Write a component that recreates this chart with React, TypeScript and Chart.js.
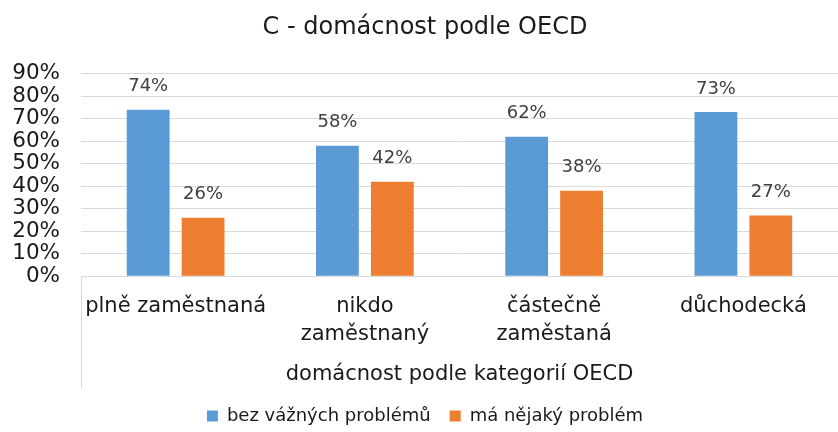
import React, { useEffect, useRef } from "react";
import { Chart, registerables } from "chart.js";

Chart.register(...registerables);

const chartTitle = "C - domácnost podle OECD";
const axisTitle = "domácnost podle kategorií OECD";
const categories: (string | string[])[] = [
  "plně zaměstnaná",
  ["nikdo", "zaměstnaný"],
  ["částečně", "zaměstaná"],
  "důchodecká",
];
const seriesNames = ["bez vážných problémů", "má nějaký problém"];
const noProblem = [74, 58, 62, 73];
const someProblem = [26, 42, 38, 27];
const yTicksMax = 90;
const yTickStep = 10;

const FONT = "'DejaVu Sans', Verdana, sans-serif";

const dataLabels = {
  id: "dataLabels",
  afterDatasetsDraw(chart: any) {
    const ctx = chart.ctx;
    ctx.save();
    ctx.font = `18px ${FONT}`;
    ctx.fillStyle = "#404040";
    ctx.textAlign = "center";
    ctx.textBaseline = "bottom";
    chart.data.datasets.forEach((ds: any, di: number) => {
      const meta = chart.getDatasetMeta(di);
      meta.data.forEach((bar: any, i: number) => {
        ctx.fillText(Math.round(ds.data[i]) + "%", bar.x, bar.y - 14);
      });
    });
    ctx.restore();
  },
};

const leftFrame = {
  id: "leftFrame",
  afterDraw(chart: any) {
    const ctx = chart.ctx;
    const xs = chart.scales.x;
    const x = Math.round(chart.chartArea.left) + 0.5;
    ctx.save();
    ctx.strokeStyle = "#d9d9d9";
    ctx.lineWidth = 1;
    ctx.beginPath();
    ctx.moveTo(x, chart.chartArea.bottom);
    ctx.lineTo(x, xs.bottom);
    ctx.stroke();
    ctx.restore();
  },
};

export default function App() {
  const ref = useRef<HTMLCanvasElement>(null);
  useEffect(() => {
    const chart = new Chart(ref.current!, {
      type: "bar",
      data: {
        labels: categories,
        datasets: [
          {
            label: seriesNames[0],
            data: noProblem,
            backgroundColor: "#5b9bd5",
            barPercentage: 0.78,
            categoryPercentage: 0.58,
          },
          {
            label: seriesNames[1],
            data: someProblem,
            backgroundColor: "#ed7d31",
            barPercentage: 0.78,
            categoryPercentage: 0.58,
          },
        ],
      },
      options: {
        animation: false,
        responsive: false,
        layout: { padding: { left: 12, right: 0, top: 0, bottom: -3 } },
        plugins: {
          title: {
            display: true,
            text: chartTitle,
            color: "#1a1a1a",
            font: { family: FONT, size: 24, weight: "normal" },
            padding: { top: 13, bottom: 32 },
          },
          legend: {
            position: "bottom",
            labels: {
              color: "#1a1a1a",
              font: { family: FONT, size: 18 },
              boxWidth: 11,
              boxHeight: 11,
              padding: 19,
            },
          },
          tooltip: { enabled: false },
        },
        scales: {
          x: {
            grid: { display: false },
            border: { display: true, color: "#d9d9d9" },
            ticks: {
              color: "#1a1a1a",
              font: { family: FONT, size: 21, lineHeight: 1.3 },
              padding: 9,
              maxRotation: 0,
              autoSkip: false,
            },
            title: {
              display: true,
              text: axisTitle,
              color: "#1a1a1a",
              font: { family: FONT, size: 21 },
              padding: { top: 5, bottom: 1 },
            },
          },
          y: {
            min: 0,
            max: yTicksMax,
            grid: { color: "#d9d9d9", drawTicks: false },
            border: { display: false },
            afterFit: (s: any) => {
              s.width = 69;
            },
            ticks: {
              stepSize: yTickStep,
              autoSkip: false,
              color: "#1a1a1a",
              font: { family: FONT, size: 21.5 },
              padding: 21,
              callback: (v: any) => v + "%",
            },
          },
        },
      },
      plugins: [dataLabels, leftFrame],
    });
    return () => chart.destroy();
  }, []);
  return (
    <div style={{ position: "absolute", left: 0, top: 0, width: 838, height: 432 }}>
      <canvas ref={ref} width={838} height={432} />
    </div>
  );
}
